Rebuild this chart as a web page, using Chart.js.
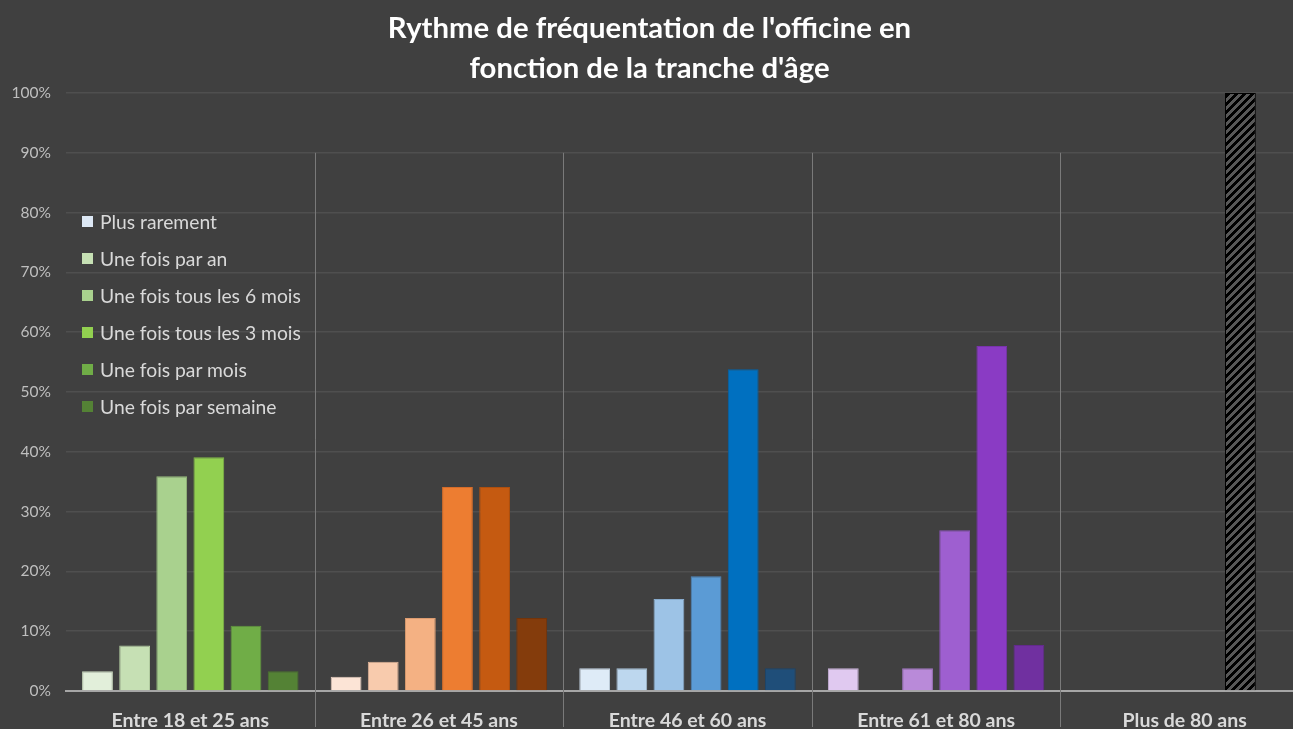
<!DOCTYPE html>
<html>
<head>
<meta charset="utf-8">
<script src="https://cdn.jsdelivr.net/npm/chart.js@4/dist/chart.umd.min.js"></script>
<style>
  html, body { margin: 0; padding: 0; background: #404040; width: 1293px; height: 729px; overflow: hidden; }
  #wrap { position: absolute; left: 0; top: 0; width: 1320px; height: 729px; }
  #title { position: absolute; left: 0; top: 7px; width: 1299px; text-align: center; color: #ffffff;
           font-family: Lato, "Open Sans", sans-serif; font-weight: 700; font-size: 29.3px; line-height: 40px; }
  #legend { position: absolute; left: 82px; top: 203px; font-family: Lato, "Open Sans", sans-serif; font-size: 19.3px; color: #d9d9d9; }
  .row { height: 37px; display: flex; align-items: center; white-space: nowrap; }
  .sw { width: 11px; height: 11px; margin-right: 7px; flex: none; }
</style>
</head>
<body>
<div id="wrap"><canvas id="c"></canvas></div>
<div id="title">Rythme de fréquentation de l'officine en<br>fonction de la tranche d'âge</div>
<div id="legend"></div>
<script>
// ---- data ----
const categories = ['Entre 18 et 25 ans', 'Entre 26 et 45 ans', 'Entre 46 et 60 ans', 'Entre 61 et 80 ans', 'Plus de 80 ans'];
const seriesNames = ['Plus rarement', 'Une fois par an', 'Une fois tous les 6 mois', 'Une fois tous les 3 mois', 'Une fois par mois', 'Une fois par semaine'];
const plusRarement   = [3.3, 2.4, 3.8, 3.8, null];
const uneFoisParAn   = [7.6, 4.9, 3.8, 0, null];
const tousLes6Mois   = [35.9, 12.2, 15.4, 3.8, null];
const tousLes3Mois   = [39.1, 34.1, 19.2, 26.9, null];
const uneFoisParMois = [10.9, 34.1, 53.8, 57.7, 100];
const parSemaine     = [3.3, 12.2, 3.8, 7.7, null];
const yTicks = [0, 10, 20, 30, 40, 50, 60, 70, 80, 90, 100];

// ---- styles ----
function hatch() {
  const t = document.createElement('canvas');
  t.width = 8; t.height = 8;
  const g = t.getContext('2d');
  const img = g.createImageData(8, 8);
  for (let y = 0; y < 8; y++) for (let x = 0; x < 8; x++) {
    const i = (y * 8 + x) * 4;
    const dark = ((x + y) % 8) < 4;
    const v = dark ? 0 : 0x58;
    img.data[i] = v; img.data[i + 1] = v; img.data[i + 2] = v; img.data[i + 3] = 255;
  }
  g.putImageData(img, 0, 0);
  return g.createPattern(t, 'repeat');
}
const HATCH = hatch();
const palette = [
  ['#e2efda', '#fce4d6', '#deebf7', '#e0c9f0', HATCH],
  ['#c6e0b4', '#f8cbad', '#bdd7ee', '#c9a3e3', HATCH],
  ['#a9d18e', '#f4b183', '#9dc3e6', '#b98ad9', HATCH],
  ['#92d050', '#ed7d31', '#5b9bd5', '#9e5fd0', HATCH],
  ['#70ad47', '#c55a11', '#0070c0', '#8a3bc4', HATCH],
  ['#548235', '#843c0c', '#1f4e79', '#7030a0', HATCH]
];
const borders = [
  ['#c9d9bd', '#e6cdbf', '#c3d3e2', '#c8b0d8', '#000000'],
  ['#b0c99e', '#e0b498', '#a6c0d6', '#b38ccb', '#000000'],
  ['#95ba7b', '#dc9c70', '#88acce', '#a276c1', '#000000'],
  ['#80b946', '#d46c2a', '#4f87bd', '#8a52b8', '#000000'],
  ['#62983e', '#ad4f0f', '#0062a8', '#7833ac', '#000000'],
  ['#49722e', '#73340a', '#1b446a', '#622a8c', '#000000']
];
const legendColors = ['#dde8f5', '#c6e0b4', '#a9d18e', '#92d050', '#70ad47', '#548235'];

const seriesValues = [plusRarement, uneFoisParAn, tousLes6Mois, tousLes3Mois, uneFoisParMois, parSemaine];

const datasets = seriesValues.map((vals, i) => ({
  label: seriesNames[i],
  data: vals,
  backgroundColor: palette[i],
  borderColor: borders[i],
  borderWidth: 1,
  categoryPercentage: 0.896,
  barPercentage: 0.83
}));

// legend (HTML)
const lg = document.getElementById('legend');
seriesNames.forEach((n, i) => {
  const r = document.createElement('div'); r.className = 'row';
  const s = document.createElement('div'); s.className = 'sw'; s.style.background = legendColors[i];
  const t = document.createElement('span'); t.textContent = n;
  r.appendChild(s); r.appendChild(t); lg.appendChild(r);
});

const dividers = {
  id: 'dividers',
  beforeDatasetsDraw(chart) {
    const x = chart.scales.x, y = chart.scales.y, ctx = chart.ctx;
    ctx.save();
    ctx.strokeStyle = '#7a7a7a';
    ctx.lineWidth = 1;
    for (let i = 1; i < categories.length; i++) {
      const px = Math.round((x.getPixelForValue(i - 1) + x.getPixelForValue(i)) / 2) + 0.5;
      ctx.beginPath();
      ctx.moveTo(px, y.getPixelForValue(90));
      ctx.lineTo(px, chart.height - 2);
      ctx.stroke();
    }
    ctx.restore();
  }
};

Chart.defaults.font.family = 'Lato, "Open Sans", sans-serif';
new Chart(document.getElementById('c'), {
  type: 'bar',
  data: { labels: categories, datasets },
  plugins: [dividers],
  options: {
    responsive: true,
    maintainAspectRatio: false,
    animation: false,
    layout: { padding: { top: 93, right: 11, left: 0, bottom: 0 } },
    plugins: { legend: { display: false }, title: { display: false }, tooltip: { enabled: false } },
    scales: {
      x: {
        grid: { display: false, drawTicks: false },
        border: { display: true, color: '#a6a6a6', width: 2 },
        ticks: { color: '#d9d9d9', font: { size: 19.5, weight: 'bold' }, padding: 18, maxRotation: 0, autoSkip: false },
        afterFit(s) { s.height = 38; }
      },
      y: {
        min: 0, max: 100,
        afterBuildTicks(s) { s.ticks = yTicks.map(v => ({ value: v })); },
        ticks: { color: '#bfbfbf', font: { size: 15.5 }, padding: 15, callback: v => v + '%' },
        grid: { color: '#4f4f4f', lineWidth: 1.5, drawTicks: false },
        border: { display: false },
        afterFit(s) { s.width = 66; }
      }
    }
  }
});
</script>
</body>
</html>
